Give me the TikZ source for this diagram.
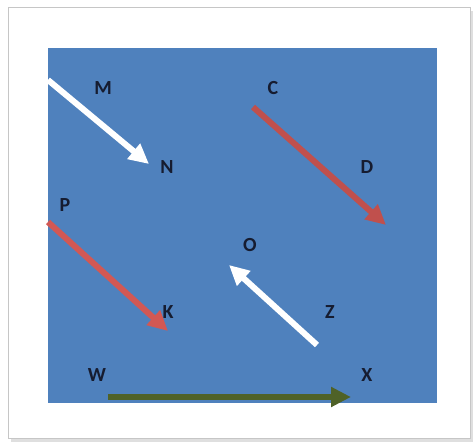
\documentclass[tikz,border=0pt]{standalone}
\usepackage{fontspec}
\setmainfont{Carlito}
\usetikzlibrary{arrows.meta}
\definecolor{bgblue}{RGB}{79,129,189}
\definecolor{arrred}{RGB}{192,80,77}
\definecolor{arrpink}{RGB}{210,88,84}
\definecolor{arrgreen}{RGB}{79,98,40}
\definecolor{lbl}{RGB}{22,28,48}
\tikzset{
  vec/.style={line width=6pt, -{Triangle[length=20pt,width=19pt]}},
  lab/.style={font=\fontsize{20}{20}\selectfont\bfseries, text=lbl, inner sep=0pt},
}
\begin{document}
\begin{tikzpicture}[x=1pt,y=-1pt]
\useasboundingbox (0,0) rectangle (475,443);
\fill[white] (0,0) rectangle (475,443);
% frame with soft shadow
\fill[gray!25] (11,11) rectangle (473,442);
\fill[white,draw=gray!45,line width=1pt] (8,8) rectangle (470,439);
% blue panel
\fill[bgblue] (48,48) rectangle (437,403);
% endpoints
\coordinate (m0) at (48,80);   \coordinate (n0) at (149,164);
\coordinate (c0) at (253,107); \coordinate (d0) at (386,225);
\coordinate (p0) at (48,222);  \coordinate (k0) at (168,331);
\coordinate (z0) at (317,345); \coordinate (o0) at (229,265);
\coordinate (w0) at (108,397); \coordinate (x0) at (351,397);
% arrows
\draw[vec, white] (m0) -- (n0);
\draw[vec, arrred] (c0) -- (d0);
\draw[vec, arrpink] (p0) -- (k0);
\draw[vec, white] (z0) -- (o0);
\draw[vec, arrgreen] (w0) -- (x0);
% labels
\node[lab] (M) at (103,88) {M};
\node[lab] (N) at (167,167) {N};
\node[lab] (C) at (273,88) {C};
\node[lab] (D) at (367,167) {D};
\node[lab] (P) at (65,205) {P};
\node[lab] (K) at (168,312) {K};
\node[lab] (O) at (250,245) {O};
\node[lab] (Z) at (330,312) {Z};
\node[lab] (W) at (97,375) {W};
\node[lab] (X) at (367,375) {X};
\end{tikzpicture}
\end{document}
